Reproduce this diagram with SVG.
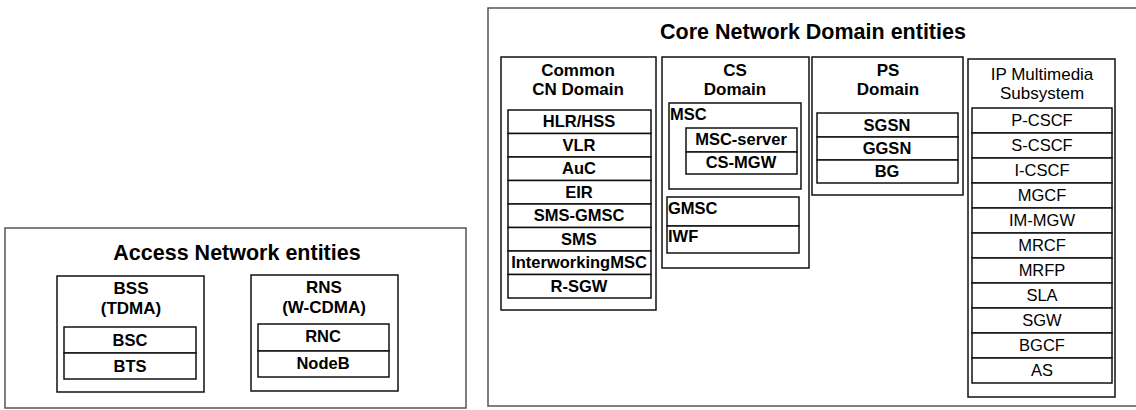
<svg xmlns="http://www.w3.org/2000/svg" width="1136" height="410" viewBox="0 0 1136 410">
<style>
text{font-family:"Liberation Sans",Arial,sans-serif;fill:#000}
.t{font-size:21.5px;font-weight:bold;text-anchor:middle}
.h{font-size:17px;font-weight:bold;text-anchor:middle}
.hr{font-size:17px;text-anchor:middle}
.c{font-size:16.5px;font-weight:bold;text-anchor:middle}
.r{font-size:16.5px;text-anchor:middle}
.l{font-size:16.5px;font-weight:bold}
.o{fill:#fff;stroke:#555;stroke-width:1.5}
.b{fill:#fff;stroke:#111;stroke-width:1.5}
</style>
<rect width="1136" height="410" fill="#fff"/>
<g id="access">
<rect class="o" x="5" y="228" width="461" height="180"/>
<text class="t" x="237" y="260">Access Network entities</text>
</g>
<g id="bss">
<rect class="b" x="57" y="276" width="147" height="116"/>
<text class="h" x="131" y="294">BSS</text>
<text class="h" x="131" y="314">(TDMA)</text>
<rect class="b" x="64" y="327" width="132" height="26"/>
<text class="c" x="130" y="346">BSC</text>
<rect class="b" x="64" y="353" width="132" height="26"/>
<text class="c" x="130" y="372">BTS</text>
</g>
<g id="rns">
<rect class="b" x="251" y="275" width="147" height="116"/>
<text class="h" x="324" y="293">RNS</text>
<text class="h" x="324" y="313">(W-CDMA)</text>
<rect class="b" x="258" y="324" width="131" height="27"/>
<text class="c" x="323" y="342">RNC</text>
<rect class="b" x="258" y="351" width="131" height="26"/>
<text class="c" x="323" y="369">NodeB</text>
</g>
<g id="core">
<rect class="o" x="488" y="8" width="660" height="398"/>
<text class="t" x="813" y="39">Core Network Domain entities</text>
</g>
<g id="common">
<rect class="b" x="501" y="57" width="155" height="253"/>
<text class="h" x="578" y="76">Common</text>
<text class="h" x="578" y="95">CN Domain</text>
<rect class="b" x="508" y="110" width="143" height="23.5"/>
<text class="c" x="579" y="127">HLR/HSS</text>
<rect class="b" x="508" y="133.5" width="143" height="23.5"/>
<text class="c" x="579" y="150.5">VLR</text>
<rect class="b" x="508" y="157" width="143" height="23.5"/>
<text class="c" x="579" y="174">AuC</text>
<rect class="b" x="508" y="180.5" width="143" height="23.5"/>
<text class="c" x="579" y="197.5">EIR</text>
<rect class="b" x="508" y="204" width="143" height="23.5"/>
<text class="c" x="579" y="221">SMS-GMSC</text>
<rect class="b" x="508" y="227.5" width="143" height="23.5"/>
<text class="c" x="579" y="244.5">SMS</text>
<rect class="b" x="508" y="251" width="143" height="23.5"/>
<text class="c" x="579" y="268">InterworkingMSC</text>
<rect class="b" x="508" y="274.5" width="143" height="23.5"/>
<text class="c" x="579" y="291.5">R-SGW</text>
</g>
<g id="cs">
<rect class="b" x="662" y="57" width="147" height="211"/>
<text class="h" x="735" y="76">CS</text>
<text class="h" x="735" y="95">Domain</text>
<rect class="b" x="669" y="103" width="132" height="86"/>
<text class="l" x="670" y="120">MSC</text>
<rect class="b" x="686" y="128" width="111" height="24"/>
<text class="c" x="741" y="145">MSC-server</text>
<rect class="b" x="686" y="152" width="111" height="22"/>
<text class="c" x="741" y="168">CS-MGW</text>
<rect class="b" x="667" y="197" width="132" height="29"/>
<text class="l" x="668" y="214">GMSC</text>
<rect class="b" x="667" y="226" width="132" height="27"/>
<text class="l" x="668" y="242">IWF</text>
</g>
<g id="ps">
<rect class="b" x="812" y="57" width="151" height="138"/>
<text class="h" x="888" y="76">PS</text>
<text class="h" x="888" y="95">Domain</text>
<rect class="b" x="817" y="113" width="141" height="24"/>
<text class="c" x="887" y="131">SGSN</text>
<rect class="b" x="817" y="137" width="141" height="23"/>
<text class="c" x="887" y="154">GGSN</text>
<rect class="b" x="817" y="160" width="141" height="23"/>
<text class="c" x="887" y="177">BG</text>
</g>
<g id="ims">
<rect class="b" x="968" y="59" width="147" height="338"/>
<text class="hr" x="1042" y="80">IP Multimedia</text>
<text class="hr" x="1042" y="99">Subsystem</text>
<rect class="b" x="972" y="108" width="140" height="25"/>
<text class="r" x="1042" y="126">P-CSCF</text>
<rect class="b" x="972" y="133" width="140" height="25"/>
<text class="r" x="1042" y="151">S-CSCF</text>
<rect class="b" x="972" y="158" width="140" height="25"/>
<text class="r" x="1042" y="176">I-CSCF</text>
<rect class="b" x="972" y="183" width="140" height="25"/>
<text class="r" x="1042" y="201">MGCF</text>
<rect class="b" x="972" y="208" width="140" height="25"/>
<text class="r" x="1042" y="226">IM-MGW</text>
<rect class="b" x="972" y="233" width="140" height="25"/>
<text class="r" x="1042" y="251">MRCF</text>
<rect class="b" x="972" y="258" width="140" height="25"/>
<text class="r" x="1042" y="276">MRFP</text>
<rect class="b" x="972" y="283" width="140" height="25"/>
<text class="r" x="1042" y="301">SLA</text>
<rect class="b" x="972" y="308" width="140" height="25"/>
<text class="r" x="1042" y="326">SGW</text>
<rect class="b" x="972" y="333" width="140" height="25"/>
<text class="r" x="1042" y="351">BGCF</text>
<rect class="b" x="972" y="358" width="140" height="25"/>
<text class="r" x="1042" y="376">AS</text>
</g>
<g id="connectors"></g>
</svg>
